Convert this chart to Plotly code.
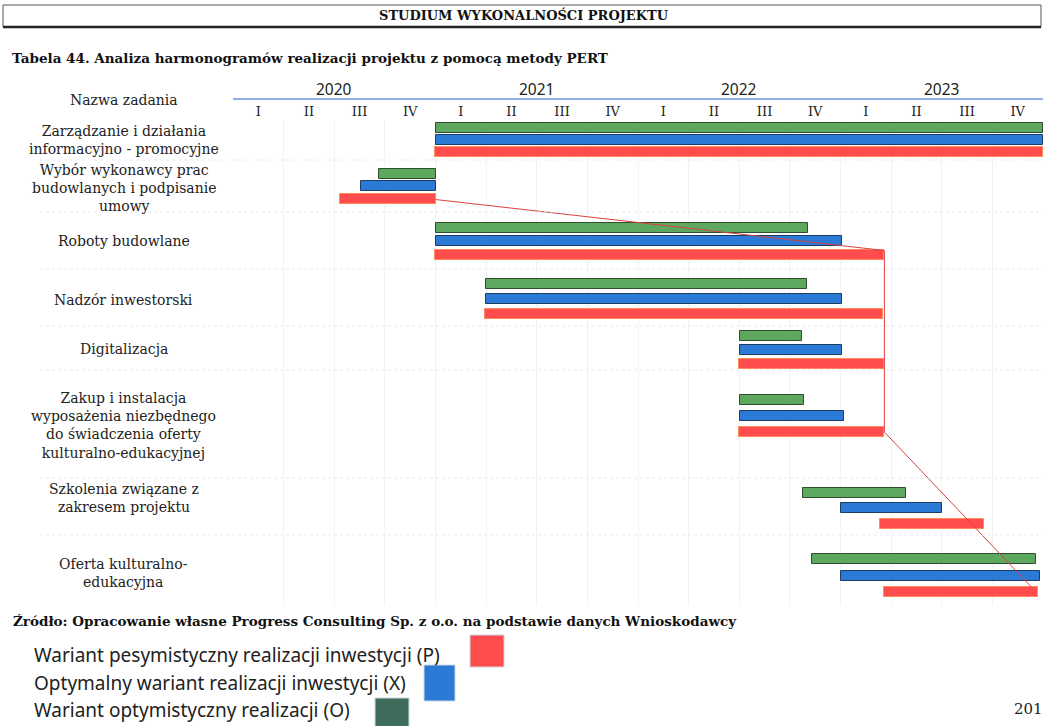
import plotly.graph_objects as go

# ---------------- data (months from Jan 2020) ----------------
tasks = [
    "Zarządzanie i działania<br>informacyjno - promocyjne",
    "Wybór wykonawcy prac<br>budowlanych i podpisanie<br>umowy",
    "Roboty budowlane",
    "Nadzór inwestorski",
    "Digitalizacja",
    "Zakup i instalacja<br>wyposażenia niezbędnego<br>do świadczenia oferty<br>kulturalno-edukacyjnej",
    "Szkolenia związane z<br>zakresem projektu",
    "Oferta kulturalno-<br>edukacyjna",
]
opt_start = [12.0, 8.65, 12.0, 15.0, 30.05, 30.05, 33.75, 34.3]
opt_end   = [48.0, 12.0, 34.1, 34.0, 33.7, 33.85, 39.9, 47.6]
mid_start = [12.0, 7.6, 12.0, 15.0, 30.05, 30.05, 36.0, 36.0]
mid_end   = [48.0, 12.0, 36.1, 36.1, 36.1, 36.2, 42.0, 47.8]
pes_start = [11.95, 6.35, 11.95, 14.95, 30.0, 30.0, 38.35, 38.55]
pes_end   = [48.0, 12.0, 38.6, 38.5, 38.6, 38.6, 44.5, 47.7]
critical_rows = [1, 2, 5, 7]

years = ["2020", "2021", "2022", "2023"]
quarters = ["I", "II", "III", "IV"]

legend_labels = [
    "Wariant pesymistyczny realizacji inwestycji (P)",
    "Optymalny wariant realizacji inwestycji (X)",
    "Wariant optymistyczny realizacji (O)",
]

# ---------------- layout helpers (pixel geometry) ----------------
W, H = 1045, 726
PL, PR, PT, PB = 233, 1043, 120, 605
row_center = [140, 186, 241, 299, 350, 416, 508, 575.5]
label_center = [140, 188, 241, 300, 349, 425, 498, 573]
row_gap = [12.2, 12.5, 13.5, 15, 13.8, 16, 15.5, 16.3]
row_sep = [160, 212, 269, 326, 370, 478, 535]
BAR_W = 10

def px(x):
    return (x - PL) / (PR - PL)

def py(y):
    return (PB - y) / (PB - PT)

GREEN, BLUE, RED = "#5ea75e", "#2b7bd6", "#ff4d4d"
SERIF = "DejaVu Serif"

fig = go.Figure()

y_opt = [c - g for c, g in zip(row_center, row_gap)]
y_mid = list(row_center)
y_pes = [c + g for c, g in zip(row_center, row_gap)]

for s, e, ys, col, lc in [
    (opt_start, opt_end, y_opt, GREEN, "#2f4f2f"),
    (mid_start, mid_end, y_mid, BLUE, "#1c3d63"),
    (pes_start, pes_end, y_pes, RED, "#ff8a5a"),
]:
    fig.add_trace(go.Bar(
        orientation="h", base=s, x=[b - a for a, b in zip(s, e)], y=ys,
        width=BAR_W, marker=dict(color=col, line=dict(color=lc, width=1)),
        showlegend=False, hoverinfo="skip",
    ))

# critical path line
cx = [pes_end[i] for i in critical_rows]
cy = [y_pes[critical_rows[0]] + 1, y_pes[critical_rows[1]] - 4,
      y_pes[critical_rows[2]], y_pes[critical_rows[3]] - 5]
cx[-1] = cx[-1] - 0.4
fig.add_trace(go.Scatter(x=cx, y=cy, mode="lines",
                         line=dict(color="#d9413f", width=1),
                         showlegend=False, hoverinfo="skip"))

shapes = []
annotations = []

# row separators (faint)
for y in row_sep:
    shapes.append(dict(type="line", xref="paper", yref="y", x0=px(40), x1=1,
                       y0=y, y1=y, line=dict(color="#e8eaf0", width=1, dash="dot")))

# row labels
for t, c in zip(tasks, label_center):
    annotations.append(dict(text=t, xref="paper", yref="y", x=px(124), y=c,
                            xanchor="center", yanchor="middle", showarrow=False,
                            font=dict(family=SERIF, size=14, color="#222"),
                            align="center"))

# year labels and line
for i, yr in enumerate(years):
    annotations.append(dict(text=yr, xref="x", yref="paper", x=i * 12 + 6,
                            y=py(89), xanchor="center", yanchor="middle",
                            showarrow=False,
                            font=dict(family="Noto Sans", size=15.5, color="#222")))
shapes.append(dict(type="line", xref="paper", yref="paper", x0=0, x1=1,
                   y0=py(99), y1=py(99), line=dict(color="#8faee6", width=2)))

annotations.append(dict(text="Nazwa zadania", xref="paper", yref="paper",
                        x=px(124), y=py(100), xanchor="center", yanchor="middle",
                        showarrow=False, font=dict(family=SERIF, size=14, color="#222")))

# header box
shapes.append(dict(type="line", xref="paper", yref="paper", x0=px(3), x1=px(1041),
                   y0=py(5), y1=py(5), line=dict(color="#555", width=1)))
shapes.append(dict(type="line", xref="paper", yref="paper", x0=px(3), x1=px(1041),
                   y0=py(27), y1=py(27), line=dict(color="#222", width=2.5)))
shapes.append(dict(type="line", xref="paper", yref="paper", x0=px(3), x1=px(3),
                   y0=py(5), y1=py(27), line=dict(color="#555", width=1)))
shapes.append(dict(type="line", xref="paper", yref="paper", x0=px(1041), x1=px(1041),
                   y0=py(5), y1=py(27), line=dict(color="#555", width=1)))
annotations.append(dict(text="<b>STUDIUM WYKONALNOŚCI PROJEKTU</b>", xref="paper",
                        yref="paper", x=px(524), y=py(15), xanchor="center",
                        yanchor="middle", showarrow=False,
                        font=dict(family=SERIF, size=13, color="#111")))
annotations.append(dict(text="<b>Tabela 44. Analiza harmonogramów realizacji projektu z pomocą metody PERT</b>",
                        xref="paper", yref="paper", x=px(10), y=py(58),
                        xanchor="left", yanchor="middle", showarrow=False,
                        font=dict(family=SERIF, size=13.5, color="#111")))
annotations.append(dict(text="<b>Źródło: Opracowanie własne Progress Consulting Sp. z o.o. na podstawie danych Wnioskodawcy</b>",
                        xref="paper", yref="paper", x=px(11), y=py(621),
                        xanchor="left", yanchor="middle", showarrow=False,
                        font=dict(family=SERIF, size=13.5, color="#111")))

# legend
leg_y = [655, 683, 710]
leg_col = [RED, BLUE, "#3e6e5b"]
leg_box = [(470, 504, 635, 667), (424, 455, 665, 701), (375, 409, 698, 730)]
for lab, y, col, (x0, x1, y0, y1) in zip(legend_labels, leg_y, leg_col, leg_box):
    annotations.append(dict(text=lab, xref="paper", yref="paper", x=px(32), y=py(y),
                            xanchor="left", yanchor="middle", showarrow=False,
                            font=dict(family="Noto Sans", size=19, color="#222")))
    shapes.append(dict(type="rect", xref="paper", yref="paper", x0=px(x0), x1=px(x1),
                       y0=py(y0), y1=py(y1), fillcolor=col,
                       line=dict(color="#cfd6e6", width=1)))

annotations.append(dict(text="201", xref="paper", yref="paper", x=px(1045), y=py(709),
                        xanchor="right", yanchor="middle", showarrow=False,
                        font=dict(family=SERIF, size=15, color="#222")))

fig.update_layout(
    width=W, height=H,
    margin=dict(l=PL, r=W - PR, t=PT, b=H - PB, pad=0),
    paper_bgcolor="white", plot_bgcolor="white",
    barmode="overlay", bargap=0,
    shapes=shapes, annotations=annotations,
    xaxis=dict(range=[0, 48], side="top",
               tickvals=[q * 3 + 1.5 for q in range(16)],
               ticktext=[quarters[q % 4] for q in range(16)],
               tickfont=dict(family=SERIF, size=13, color="#222"),
               ticks="", showgrid=False, zeroline=False, showline=False,
               ticklabelstandoff=0,
               minor=dict(tickvals=[q * 3 for q in range(17)], showgrid=True,
                          gridcolor="#f1f3f7", gridwidth=1, ticks="")),
    yaxis=dict(range=[PB, PT], showticklabels=False, showgrid=False,
               zeroline=False, showline=False, fixedrange=True),
)

fig.write_html("out.html", config={"displayModeBar": False},
               post_script="document.body.style.margin='0';document.body.style.overflow='hidden';")
